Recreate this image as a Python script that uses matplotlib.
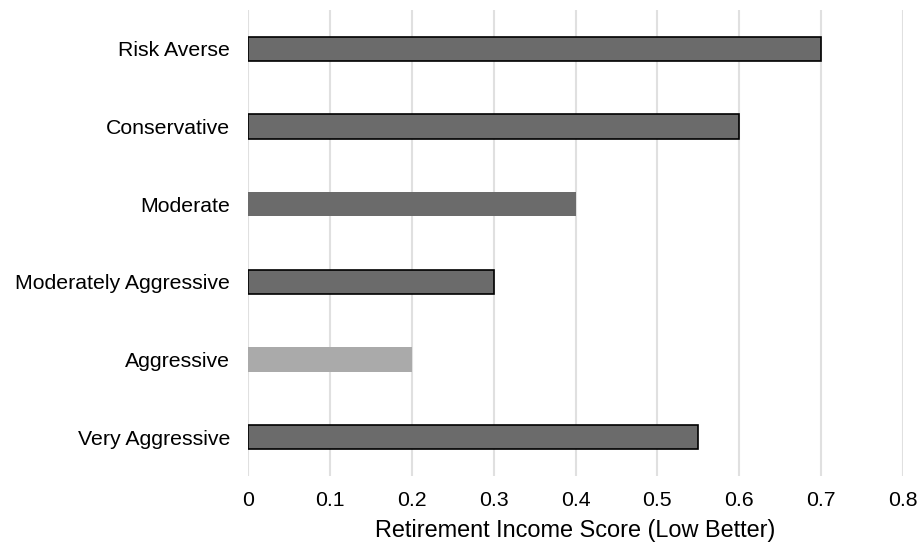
import matplotlib
matplotlib.use("Agg")
import matplotlib.pyplot as plt

plt.rcParams['font.family'] = ['Liberation Sans', 'DejaVu Sans']

categories = ["Risk Averse", "Conservative", "Moderate", "Moderately Aggressive", "Aggressive", "Very Aggressive"]
values = [0.7, 0.6, 0.4, 0.3, 0.2, 0.55]
colors = ["#6b6b6b", "#6b6b6b", "#6b6b6b", "#6b6b6b", "#aaaaaa", "#6b6b6b"]
edges = ["black", "black", "none", "black", "none", "black"]
xticks = [0, 0.1, 0.2, 0.3, 0.4, 0.5, 0.6, 0.7, 0.8]
xticklabels = ["0", "0.1", "0.2", "0.3", "0.4", "0.5", "0.6", "0.7", "0.8"]

fig = plt.figure(figsize=(9.19, 5.44), dpi=100)
ax = fig.add_axes([0.2699, 0.125, 0.7127, 0.8566])

ypos = list(range(len(categories)))[::-1]
for y, v, c, e in zip(ypos, values, colors, edges):
    ax.barh(y, v, height=0.31, color=c, edgecolor=e, linewidth=1.2 if e != "none" else 0, zorder=3)

ax.set_ylim(-0.5, len(categories) - 0.5)
ax.set_xlim(0, 0.8)
ax.set_yticks(ypos)
ax.set_yticklabels(categories, fontsize=15.3)
ax.set_xticks(xticks)
ax.set_xticklabels(xticklabels, fontsize=15.3)
ax.tick_params(axis='y', length=0, pad=13)
ax.tick_params(axis='x', length=0, pad=11)
ax.xaxis.grid(True, color="#e0e0e0", linewidth=1.5, zorder=0)
ax.set_axisbelow(True)
for s in ax.spines.values():
    s.set_visible(False)
ax.set_xlabel("Retirement Income Score (Low Better)", fontsize=16.9, labelpad=6)

fig.savefig("out.png", dpi=100)
